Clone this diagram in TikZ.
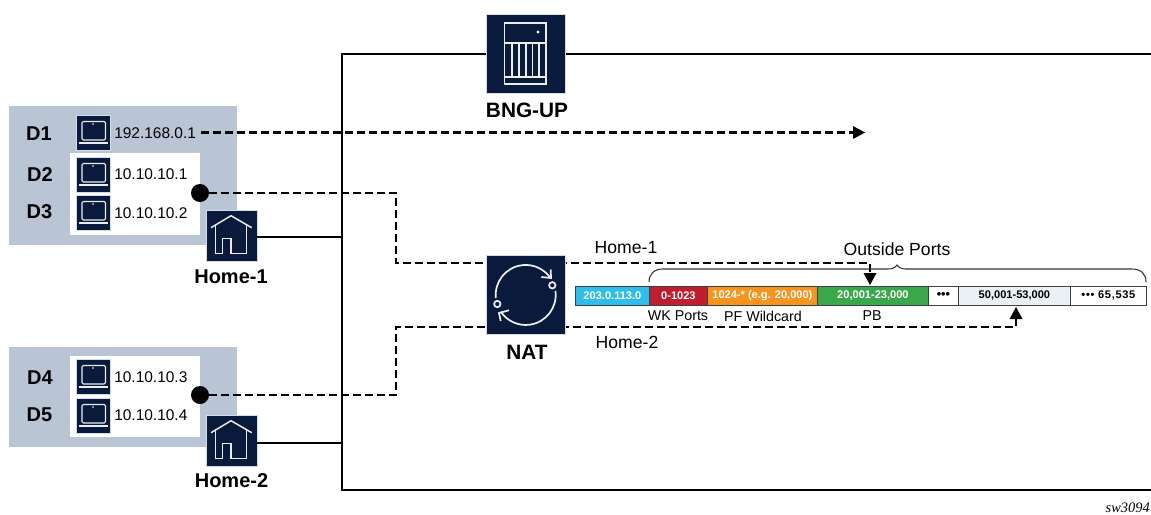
\documentclass[tikz,border=0pt]{standalone}
\usepackage{fontspec}
\setmainfont{Liberation Sans}
\newfontfamily\serifit[Scale=1]{Liberation Serif}
\usetikzlibrary{arrows.meta,calc}
\definecolor{navy}{HTML}{0A1A3C}
\definecolor{groupbg}{HTML}{B9C4D4}
\definecolor{cyanseg}{HTML}{2FBDEB}
\definecolor{redseg}{HTML}{BE1E2D}
\definecolor{orangeseg}{HTML}{F7941D}
\definecolor{greenseg}{HTML}{39A84A}
\definecolor{paleseg}{HTML}{EAF1F5}
\tikzset{
  x=0.75pt,y=-0.75pt,
  group/.style={fill=groupbg,draw=none},
  pane/.style={fill=white,draw=none},
  iconbox/.style={fill=navy,draw=groupbg!60,line width=0.3pt,inner sep=0pt,minimum width=#1*0.75pt,minimum height=#1*0.75pt,anchor=north west},
  glyph/.style={draw=white!92!navy,line width=0.85pt},
  wire/.style={draw=black,line width=1.7pt},
  dashwire/.style={draw=black,line width=2pt,dash pattern=on 6pt off 3pt},
  dot/.style={circle,fill=black,inner sep=0pt,minimum size=13.5pt},
  big/.style={font=\bfseries\fontsize{15}{17}\selectfont},
  ip/.style={font=\fontsize{11.6}{13}\selectfont,anchor=west,inner sep=0pt},
  thin label/.style={font=\fontsize{13.2}{15}\selectfont},
  small label/.style={font=\fontsize{10.7}{12}\selectfont},
  seg/.style={draw=black!75,line width=0.6pt,minimum height=14.25pt,inner sep=0pt,anchor=north west,font=\bfseries\fontsize{8.3}{10}\selectfont},
  brace/.style={draw=black!80,line width=0.8pt}
}
\newcommand{\laptop}[3]{% name, left, top
  \node[iconbox=34.5] (#1) at (#2,#3) {};
  \begin{scope}[shift={(#2,#3)}]
    \draw[glyph,rounded corners=1pt] (6.5,6.5) rectangle (30,25);
    \draw[glyph] (3.5,28) -- (32,28);
    \fill[white] (17.5,9) circle (0.6pt);
  \end{scope}}
\newcommand{\house}[3]{%
  \node[iconbox=51] (#1) at (#2,#3) {};
  \begin{scope}[shift={(#2,#3)}]
    \draw[glyph,line width=1.1pt,line join=miter] (5,17.7) -- (25,5.7) -- (45.7,17.7);
    \draw[glyph,line width=1.1pt] (9.7,14.3) -- (9.7,43.3) -- (16.7,43.3) -- (16.7,28.3) -- (25,28.3) -- (25,43.3) -- (40.7,43.3) -- (40.7,14.3);
  \end{scope}}
\newcommand{\seglabel}[6]{% name,left,right,fill,textcolor,text
  \node[seg,fill=#4,text=#5,minimum width={(#3-#2)*0.75pt}] (#1) at (#2,286) {#6};}
\begin{document}
\begin{tikzpicture}
\useasboundingbox (0,0) rectangle (1151,514);
% rail
\coordinate (railtopend) at (1151,54);
\coordinate (railbotend) at (1151,490);
\coordinate (railtop) at (342,54);
\coordinate (railbot) at (342,490);
\draw[wire] (railtopend) -- (railtop) -- (railbot) -- (railbotend);
% groups
\fill[group] (9,106) rectangle (237,245);
\fill[pane] (70,153) rectangle (200,235);
\fill[group] (9,347) rectangle (237,447);
\fill[pane] (70,356) rectangle (200,437);
% labels D
\node[big] (d1) at (39,134) {D1};
\node[big] (d2) at (40,175) {D2};
\node[big] (d3) at (39.5,212) {D3};
\node[big] (d4) at (40,378) {D4};
\node[big] (d5) at (39.5,415) {D5};
% laptops
\laptop{lap1}{75.5}{115}
\laptop{lap2}{75.5}{157}
\laptop{lap3}{75.5}{195}
\laptop{lap4}{75.5}{359}
\laptop{lap5}{75.5}{398}
\node[ip] (ip1) at (114,133) {192.168.0.1};
\node[ip] (ip2) at (114,174) {10.10.10.1};
\node[ip] (ip3) at (114,213) {10.10.10.2};
\node[ip] (ip4) at (114,377) {10.10.10.3};
\node[ip] (ip5) at (114,415) {10.10.10.4};
% homes
\house{home1}{206}{210}
\house{home2}{206}{415}
\node[big] (home1lab) at (231,277) {Home-1};
\node[big] (home2lab) at (231.5,481) {Home-2};
\coordinate (j1) at (342,237);
\coordinate (j2) at (342,443);
\draw[wire] (home1.east |- j1) -- (j1);
\draw[wire] (home2.east |- j2) -- (j2);
% dashed flows
\node[dot] (dot1) at (200,193) {};
\node[dot] (dot2) at (200,395) {};
\coordinate (flowend) at (865,132.5);
\coordinate (a1) at (396,193);
\coordinate (a2) at (396,263);
\coordinate (a3) at (870,263);
\coordinate (a4) at (870,285);
\coordinate (b1) at (396,395);
\coordinate (b2) at (396,327);
\coordinate (b3) at (1016,327);
\coordinate (b4) at (1016,307);
\coordinate (flowstart) at (201,132.5);
\draw[dashwire] (flowstart) -- ($(flowend)+(-10,0)$);
\fill (flowend) -- ++(-12,-6.5) -- ++(0,13) -- cycle;
\draw[dashwire] (dot1) -- (a1) -- (a2) -- ($(a3)$) -- ($(a4)+(0,-10)$);
\fill (a4) -- ++(-6.5,-12) -- ++(13,0) -- cycle;
\draw[dashwire] (dot2) -- (b1) -- (b2) -- (b3) -- ($(b4)+(0,8)$);
\fill (b4) -- ++(-6.5,12) -- ++(13,0) -- cycle;
% BNG
\node[iconbox=79] (bng) at (486,14) {};
\begin{scope}[shift={(486,14)}]
  \draw[glyph,line width=1pt] (18.5,9) rectangle (60,70);
  \draw[glyph,line width=1pt] (18.5,29) -- (60,29) (18.5,63) -- (60,63);
  \foreach \v in {26,33,40,46.5,53} \draw[glyph,line width=1pt] (\v,29) -- (\v,63);
  \fill[white] (52,18) circle (1.3pt);
\end{scope}
\node[font=\bfseries\fontsize{15.6}{18}\selectfont] (bnglab) at (527,110) {BNG-UP};
% NAT
\node[iconbox=79] (nat) at (486,255) {};
\begin{scope}[shift={(525.7,295)}]
  \draw[glyph,line width=1.3pt] (-29.84,3.1) arc[start angle=174,end angle=326,radius=30];
  \draw[glyph,line width=1.3pt] (29.7,-4.2) arc[start angle=-8,end angle=146,radius=30];
  \draw[glyph,line width=1.3pt] (15.6,-18) -- (25.3,-17) -- (25,-25.5);
  \draw[glyph,line width=1.3pt] (-16.7,15.3) -- (-26.7,18) -- (-25,26);
  \draw[glyph,line width=1.3pt,fill=navy] (26.6,-9.7) circle (2.4pt);
  \draw[glyph,line width=1.3pt,fill=navy] (-28.4,9) circle (2.4pt);
\end{scope}
\node[font=\bfseries\fontsize{15.6}{18}\selectfont] (natlab) at (527,352) {NAT};
% port bar
\seglabel{s1}{575}{649}{cyanseg}{white}{203.0.113.0\hspace{2.5pt}}
\seglabel{s2}{649}{707}{redseg}{white}{0-1023}
\seglabel{s3}{707}{817}{orangeseg}{white}{1024-* (e.g. 20,000)}
\seglabel{s4}{817}{928}{greenseg}{white}{20,001-23,000}
\seglabel{s5}{928}{958}{white}{black}{\fontsize{9.5}{10}\selectfont •••}
\seglabel{s6}{958}{1070}{paleseg}{black}{50,001-53,000}
\seglabel{s7}{1070}{1146}{white}{black}{\addfontfeatures{LetterSpace=6}••• 65,535}
% brace
\coordinate (bl) at (649,282);
\coordinate (br) at (1146,282);
\coordinate (bm) at (897,265);
\draw[brace] (bl) .. controls (649,274) and (654,269) .. (663,269) -- (888,269) .. controls (892,269) and (895,268) .. (bm) .. controls (899,268) and (902,269) .. (906,269) -- (1132,269) .. controls (1141,269) and (1146,274) .. (br);
% texts
\node[thin label] (h1) at (626,248) {Home-1};
\node[thin label] (h2) at (627,342) {Home-2};
\node[thin label] (op) at (897,249) {Outside Ports};
\node[small label] (wk) at (678,316) {WK Ports};
\node[small label] (pf) at (763,316) {PF Wildcard};
\node[small label] (pb) at (872,316) {PB};
\node[inner sep=0pt,anchor=east] (sw) at (1150,508) {\serifit\itshape\fontsize{10.8}{13}\selectfont sw3094};
\end{tikzpicture}
\end{document}
